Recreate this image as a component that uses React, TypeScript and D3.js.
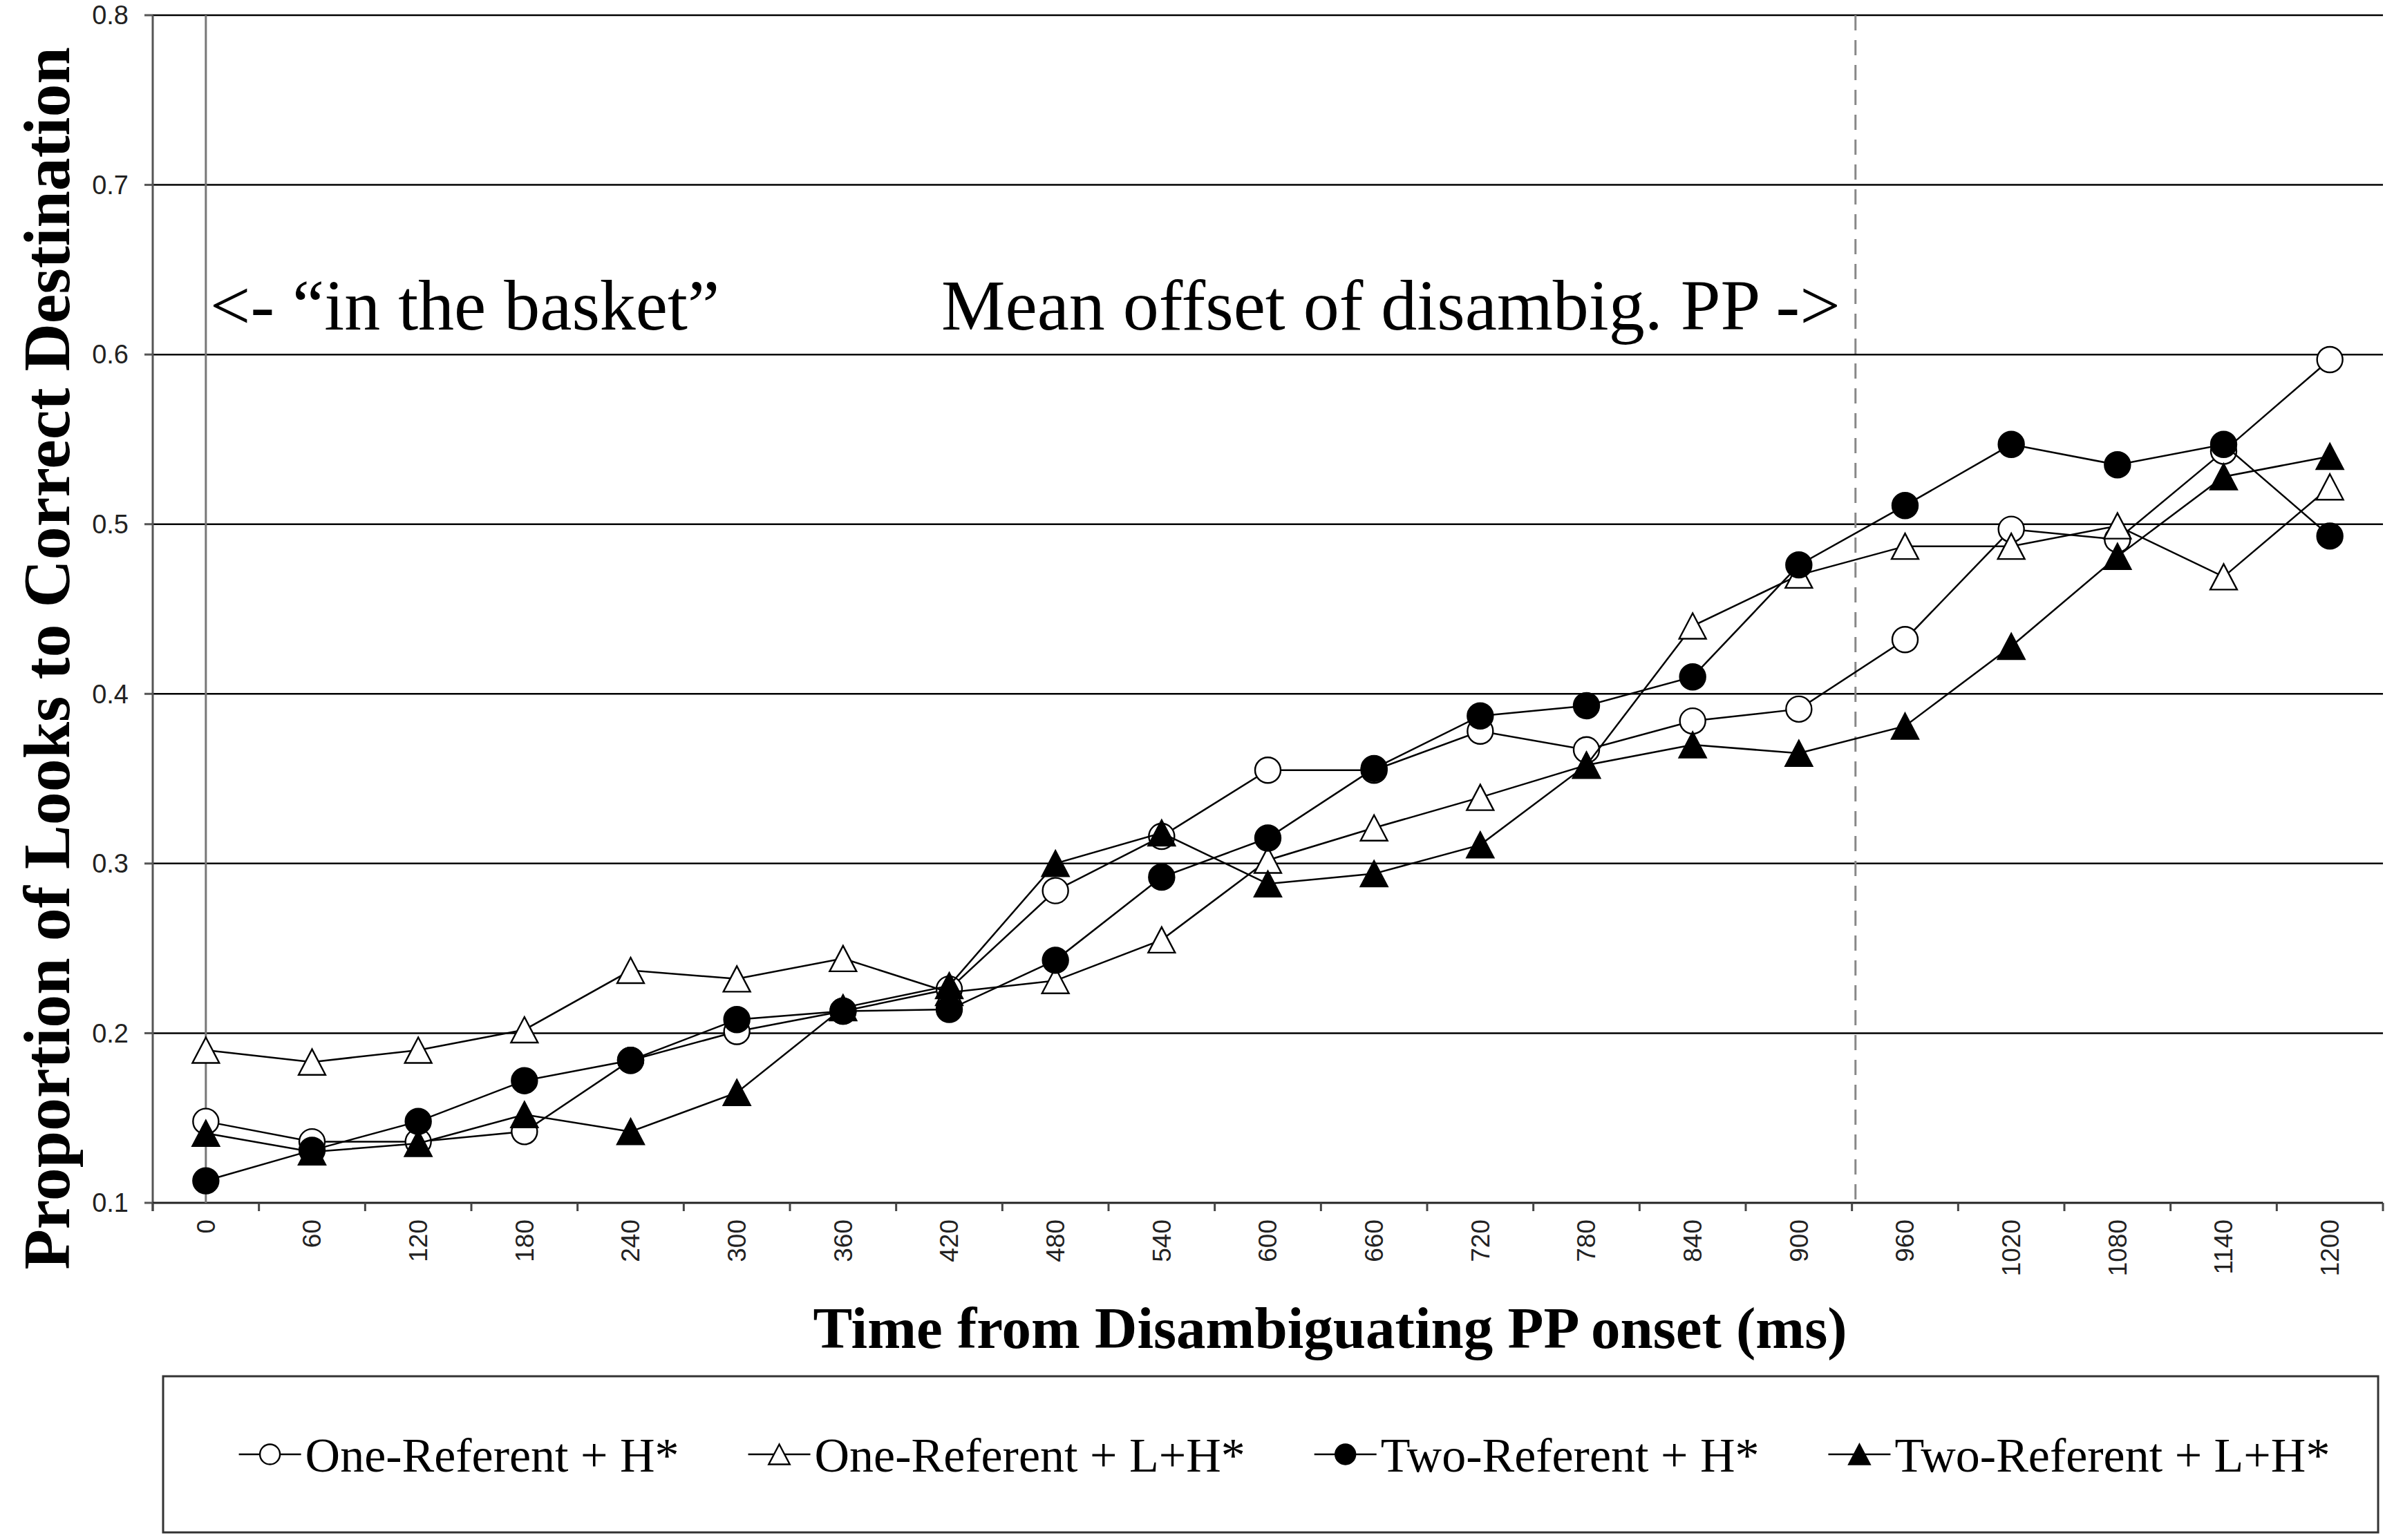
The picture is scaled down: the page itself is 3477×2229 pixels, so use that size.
import { useRef, useEffect } from "react"
import * as d3 from "d3"

const times = [0, 60, 120, 180, 240, 300, 360, 420, 480, 540, 600, 660, 720, 780, 840, 900, 960, 1020, 1080, 1140, 1200]

const oneRefH = [0.148, 0.136, 0.136, 0.142, 0.184, 0.201, 0.213, 0.226, 0.284, 0.316, 0.355, 0.355, 0.378, 0.367, 0.384, 0.391, 0.432, 0.497, 0.491, 0.543, 0.597]
const oneRefLH = [0.190, 0.183, 0.190, 0.202, 0.237, 0.232, 0.244, 0.224, 0.231, 0.255, 0.302, 0.321, 0.339, 0.358, 0.440, 0.470, 0.487, 0.487, 0.499, 0.469, 0.522]
const twoRefH = [0.113, 0.131, 0.148, 0.172, 0.184, 0.208, 0.213, 0.214, 0.243, 0.292, 0.315, 0.356, 0.387, 0.393, 0.410, 0.476, 0.511, 0.547, 0.535, 0.547, 0.493]
const twoRefLH = [0.141, 0.130, 0.135, 0.152, 0.142, 0.165, 0.215, 0.228, 0.300, 0.318, 0.288, 0.294, 0.311, 0.358, 0.370, 0.365, 0.381, 0.428, 0.481, 0.528, 0.540]

const seriesNames = ["One-Referent + H*", "One-Referent + L+H*", "Two-Referent + H*", "Two-Referent + L+H*"]
const yTicks = [0.1, 0.2, 0.3, 0.4, 0.5, 0.6, 0.7, 0.8]

// onset of the target word and mean offset of the disambiguating PP (ms)
const onsetTime = 0
const meanOffset = 932

const W = 3477
const H = 2229
const serif = "'Liberation Serif', 'Times New Roman', serif"
const sans = "'Liberation Sans', Arial, sans-serif"

type Shape = "circle" | "triangle"
const styles: { shape: Shape; fill: string }[] = [
  { shape: "circle", fill: "#fff" },
  { shape: "triangle", fill: "#fff" },
  { shape: "circle", fill: "#000" },
  { shape: "triangle", fill: "#000" },
]

function drawMarker(g: d3.Selection<SVGGElement, unknown, null, undefined>, shape: Shape, fill: string, size: number) {
  if (shape === "circle") {
    g.append("circle").attr("r", size / 2).attr("fill", fill).attr("stroke", "#000").attr("stroke-width", 2.4)
  } else {
    const w = size * 1.05
    const h = size
    g.append("path")
      .attr("d", `M0,${-h / 2}L${w / 2},${h / 2}L${-w / 2},${h / 2}Z`)
      .attr("fill", fill)
      .attr("stroke", "#000")
      .attr("stroke-width", 2.4)
      .attr("stroke-linejoin", "miter")
  }
}

export default function App() {
  const svgRef = useRef<SVGSVGElement>(null)

  useEffect(() => {
    if (!svgRef.current) return
    const svg = d3.select(svgRef.current)
    svg.selectAll("*").remove()

    const left = 221
    const right = 3448
    const top = 22
    const bottom = 1741

    const x = d3.scaleBand<number>().domain(times).range([left, right])
    const cx = (t: number) => (x(t) ?? 0) + x.bandwidth() / 2
    const xTime = d3.scaleLinear().domain([0, 1200]).range([cx(0), cx(1200)])
    const y = d3.scaleLinear().domain([0.1, 0.8]).range([bottom, top])

    // gridlines
    svg.append("g")
      .selectAll("line")
      .data(yTicks.slice(1))
      .join("line")
      .attr("x1", left)
      .attr("x2", right)
      .attr("y1", (d) => y(d))
      .attr("y2", (d) => y(d))
      .attr("stroke", "#000")
      .attr("stroke-width", 2.5)

    // y axis
    svg.append("line").attr("x1", left).attr("x2", left).attr("y1", top).attr("y2", bottom + 12).attr("stroke", "#555").attr("stroke-width", 3)
    const yt = svg.append("g")
    yt.selectAll("line")
      .data(yTicks)
      .join("line")
      .attr("x1", left - 12)
      .attr("x2", left)
      .attr("y1", (d) => y(d))
      .attr("y2", (d) => y(d))
      .attr("stroke", "#555")
      .attr("stroke-width", 3)
    yt.selectAll("text")
      .data(yTicks)
      .join("text")
      .attr("x", 186)
      .attr("y", (d) => y(d))
      .attr("dy", "0.35em")
      .attr("text-anchor", "end")
      .attr("font-family", sans)
      .attr("font-size", 38)
      .attr("fill", "#222")
      .text((d) => d3.format(".1f")(d))

    // x axis
    svg.append("line").attr("x1", left).attr("x2", right).attr("y1", bottom).attr("y2", bottom).attr("stroke", "#222").attr("stroke-width", 3)
    const xt = svg.append("g")
    xt.selectAll("line")
      .data([...times.map((t) => x(t) ?? 0), right])
      .join("line")
      .attr("x1", (d) => d)
      .attr("x2", (d) => d)
      .attr("y1", bottom)
      .attr("y2", bottom + 12)
      .attr("stroke", "#444")
      .attr("stroke-width", 3)
    xt.selectAll("text")
      .data(times)
      .join("text")
      .attr("transform", (d) => `translate(${cx(d)},${bottom + 24}) rotate(-90)`)
      .attr("dy", "0.35em")
      .attr("text-anchor", "end")
      .attr("font-family", sans)
      .attr("font-size", 37)
      .attr("fill", "#222")
      .text((d) => String(d))

    // reference lines
    svg.append("line")
      .attr("x1", xTime(onsetTime)).attr("x2", xTime(onsetTime))
      .attr("y1", top).attr("y2", bottom)
      .attr("stroke", "#777").attr("stroke-width", 3)
    svg.append("line")
      .attr("x1", xTime(meanOffset)).attr("x2", xTime(meanOffset))
      .attr("y1", top).attr("y2", bottom)
      .attr("stroke", "#888").attr("stroke-width", 3).attr("stroke-dasharray", "22,14")

    // annotations
    svg.append("text")
      .attr("x", xTime(onsetTime) + 6)
      .attr("y", 477)
      .attr("font-family", serif)
      .attr("font-size", 104)
      .attr("fill", "#000")
      .text("<- \u201cin the basket\u201d")
    svg.append("text")
      .attr("x", xTime(meanOffset) - 22)
      .attr("y", 477)
      .attr("text-anchor", "end")
      .attr("font-family", serif)
      .attr("font-size", 104)
      .attr("fill", "#000")
      .text("Mean offset of disambig. PP ->")

    // series
    const allSeries = [oneRefH, oneRefLH, twoRefH, twoRefLH]
    const line = d3.line<number>().x((_, i) => cx(times[i])).y((d) => y(d))
    allSeries.forEach((vals, si) => {
      const g = svg.append("g")
      g.append("path").datum(vals).attr("d", line).attr("fill", "none").attr("stroke", "#000").attr("stroke-width", 2.5)
      vals.forEach((v, i) => {
        const m = g.append("g").attr("transform", `translate(${cx(times[i])},${y(v)})`)
        drawMarker(m, styles[si].shape, styles[si].fill, 37)
      })
    })

    // axis titles
    svg.append("text")
      .attr("x", (left + right) / 2 + 90)
      .attr("y", 1951)
      .attr("text-anchor", "middle")
      .attr("font-family", serif)
      .attr("font-weight", "bold")
      .attr("font-size", 85)
      .attr("fill", "#000")
      .text("Time from Disambiguating PP onset (ms)")
    svg.append("text")
      .attr("transform", `translate(100,${953}) rotate(-90)`)
      .attr("text-anchor", "middle")
      .attr("font-family", serif)
      .attr("font-weight", "bold")
      .attr("font-size", 96)
      .attr("fill", "#000")
      .text("Proportion of Looks to Correct Destination")

    // legend
    const box = { x: 236, y: 1992, w: 3205, h: 226 }
    svg.append("rect")
      .attr("x", box.x).attr("y", box.y).attr("width", box.w).attr("height", box.h)
      .attr("fill", "#fff").attr("stroke", "#333").attr("stroke-width", 3)
    const leg = svg.append("g")
    const legY = box.y + box.h / 2
    const lineLen = 90
    const gap = 100
    const items = seriesNames.map((name, i) => {
      const item = leg.append("g")
      item.append("line").attr("x1", 0).attr("x2", lineLen).attr("y1", 0).attr("y2", 0).attr("stroke", "#000").attr("stroke-width", 2.5)
      const m = item.append("g").attr("transform", `translate(${lineLen / 2},0)`)
      drawMarker(m, styles[i].shape, styles[i].fill, 29)
      const t = item.append("text")
        .attr("x", lineLen + 6)
        .attr("dy", "0.35em")
        .attr("font-family", serif)
        .attr("font-size", 70)
        .attr("fill", "#000")
        .text(name)
      const tw = (t.node() as SVGTextElement).getComputedTextLength()
      return { item, width: lineLen + 6 + tw }
    })
    const total = d3.sum(items, (d) => d.width) + gap * (items.length - 1)
    let cur = box.x + (box.w - total) / 2 + 20
    items.forEach((d) => {
      d.item.attr("transform", `translate(${cur},${legY})`)
      cur += d.width + gap
    })
  }, [])

  return (
    <svg
      ref={svgRef}
      width={W}
      height={H}
      viewBox={`0 0 ${W} ${H}`}
      style={{ position: "absolute", left: 0, top: 0, background: "#fff" }}
    />
  )
}
